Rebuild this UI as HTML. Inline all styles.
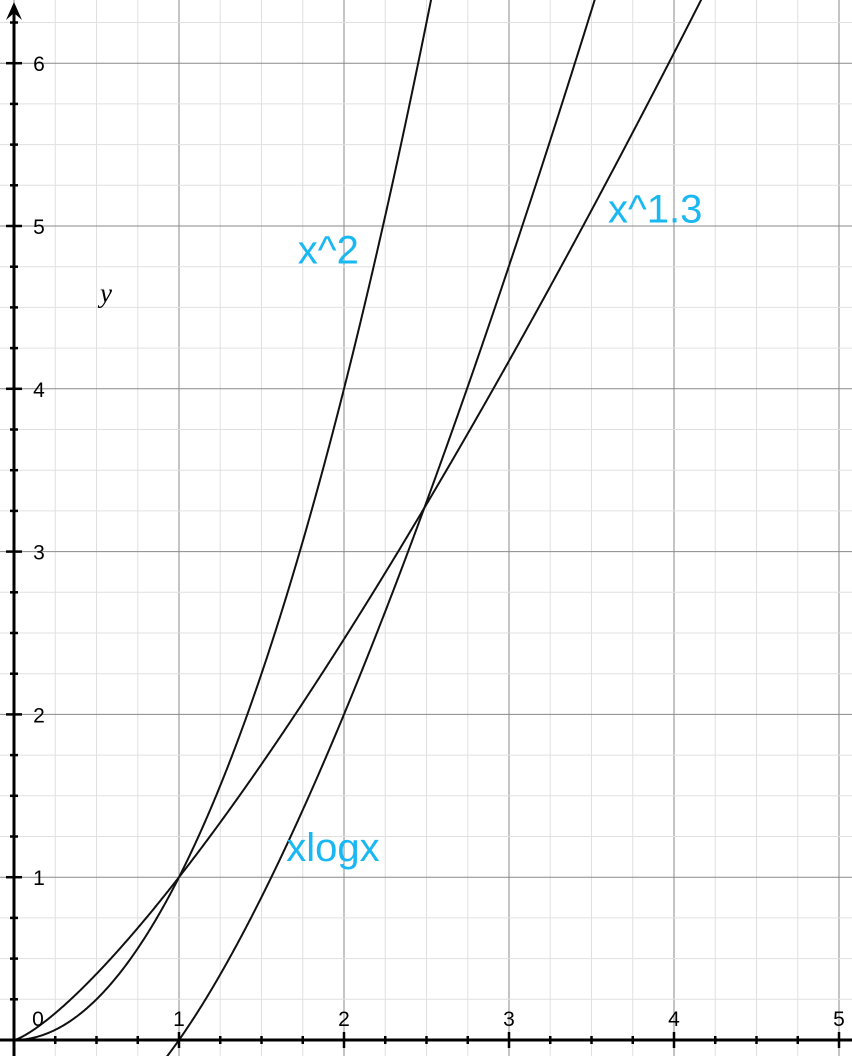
<!DOCTYPE html>
<html><head><meta charset="utf-8"><style>
html,body{margin:0;padding:0;background:#fff;}
svg{display:block;font-family:"Liberation Sans",sans-serif;}
</style></head><body>
<svg id="chart" width="852" height="1056" viewBox="0 0 852 1056">
<g id="grid"></g>
<g id="curves"></g>
<g id="axes"></g>
<g id="labels"></g>
</svg>
<script>
const xTicks=[0,1,2,3,4,5];
const yTicks=[1,2,3,4,5,6];
const seriesNames=["x^2","x^1.3","xlogx"];
const seriesExps=[2,1.3,null];
const curveLabels=[{t:"x^2",x:1.72,y:4.85},{t:"x^1.3",x:3.6,y:5.1},{t:"xlogx",x:1.65,y:1.18}];
const X0=14,Y0=1040,SX=165,SY=162.8;
const sx=v=>X0+v*SX, sy=v=>Y0-v*SY;
const NS="http://www.w3.org/2000/svg";
function mk(tag,attrs,parent){const e=document.createElementNS(NS,tag);for(const k in attrs)e.setAttribute(k,attrs[k]);parent.appendChild(e);return e;}
const grid=document.getElementById('grid'),axes=document.getElementById('axes'),curves=document.getElementById('curves'),labels=document.getElementById('labels');
for(let i=-1;i<=21;i++){const v=i*0.25;const major=i%4===0;
 const l=mk('line',{x1:sx(v),x2:sx(v),y1:0,y2:1056,stroke:major?'#8a8a8a':'#e0e0e0','stroke-width':1},grid);
 
 }
for(let i=-1;i<=26;i++){const v=i*0.25;const major=i%4===0;
 const l=mk('line',{x1:0,x2:852,y1:sy(v),y2:sy(v),stroke:major?'#8a8a8a':'#e0e0e0','stroke-width':1},grid);
 
 }
function f(k,x){return seriesExps[k]===null?x*Math.log2(x):Math.pow(x,seriesExps[k]);}
seriesNames.forEach((n,k)=>{let d='';let started=false;
 for(let x=(seriesExps[k]===null?0.85:0);x<=5.2;x+=0.005){const y=f(k,x);if(!isFinite(y))continue;
  d+=(started?'L':'M')+sx(x).toFixed(2)+','+sy(y).toFixed(2);started=true;if(y>6.6)break;}
 const p=mk('path',{d:d,fill:'none',stroke:'#111','stroke-width':2},curves);
 
 });
const xa=mk('line',{x1:0,x2:852,y1:Y0,y2:Y0,stroke:'#000','stroke-width':3},axes);


const ya=mk('line',{x1:X0,x2:X0,y1:8,y2:1056,stroke:'#000','stroke-width':3},axes);


const ar=mk('path',{d:`M${X0},2 L${X0-8},20 L${X0},13 L${X0+8},20 Z`,fill:'#000'},axes);


for(let i=1;i<=20;i++){const v=i*0.25,major=i%4===0;
 const t=mk('line',{x1:sx(v),x2:sx(v),y1:Y0-(major?8:4),y2:Y0+(major?8:4),stroke:'#000','stroke-width':2.5},axes);
 
 }
for(let i=1;i<=25;i++){const v=i*0.25,major=i%4===0;
 const t=mk('line',{x1:X0-(major?8:4),x2:X0+(major?8:4),y1:sy(v),y2:sy(v),stroke:'#000','stroke-width':2.5},axes);
 
 }
xTicks.forEach(v=>{const t=mk('text',{x:sx(v)+(v===0?24:0),y:Y0-14,'font-size':21,'text-anchor':'middle',fill:'#000'},labels);t.textContent=v;
 
 });
yTicks.forEach(v=>{const t=mk('text',{x:X0+25,y:sy(v)+8,'font-size':21,'text-anchor':'middle',fill:'#000'},labels);t.textContent=v;
 
 });
const yl=mk('text',{x:100,y:302,'font-size':27,'font-style':'italic','font-family':'Liberation Serif,serif',fill:'#000'},labels);yl.textContent='y';


curveLabels.forEach(c=>{const t=mk('text',{x:sx(c.x),y:sy(c.y)+13,'font-size':40,fill:'#1ab8f2'},labels);t.textContent=c.t;
 
 });
</script>
</body></html>
